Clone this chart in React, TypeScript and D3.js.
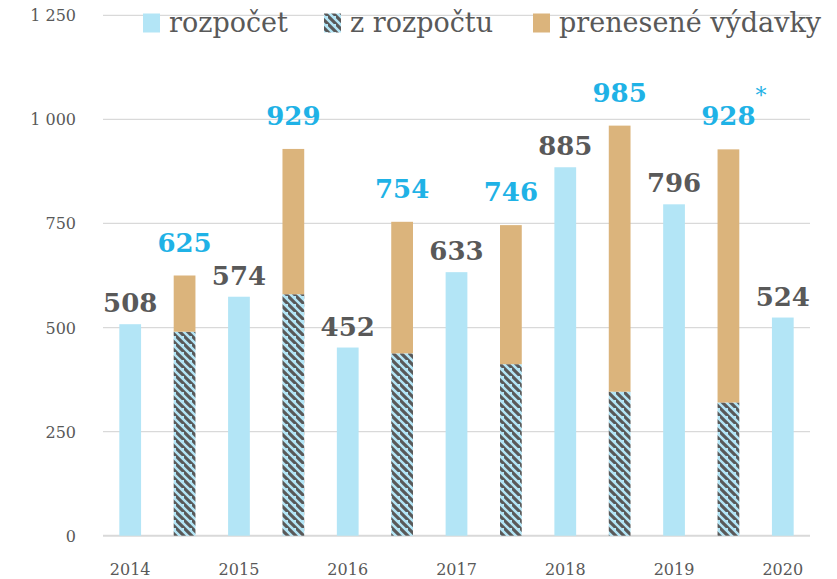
import React from 'react';
import * as d3 from 'd3';

const years = ['2014', '2015', '2016', '2017', '2018', '2019', '2020'];
const rozpocet = [508, 574, 452, 633, 885, 796, 524];
const zRozpoctu = [490, 580, 438, 412, 346, 320];
const prenesene = [135, 349, 316, 334, 639, 608];
const footnotes = ['', '', '', '', '', '*'];
const yTicks = [0, 250, 500, 750, 1000, 1250];
const legendLabels = ['rozpočet', 'z rozpočtu', 'prenesené výdavky'];

const W = 837;
const H = 579;
const C_LIGHT = '#b3e5f6';
const C_TAN = '#dbb47c';
const C_DARK = '#595959';
const C_BLUE = '#1fb2e6';
const C_GRID = '#d9d9d9';
const FONT = '"DejaVu Serif", serif';

type Slot = { key: string; kind: 'single' | 'stack'; i: number };
const slots: Slot[] = [];
years.forEach((y, i) => {
  slots.push({ key: 's' + i, kind: 'single', i });
  if (i < zRozpoctu.length) slots.push({ key: 'k' + i, kind: 'stack', i });
});

const fmt = (v: number) => {
  const s = String(v);
  return s.length > 3 ? s.slice(0, s.length - 3) + ' ' + s.slice(-3) : s;
};

export default function App() {
  const x = d3
    .scaleBand<string>()
    .domain(slots.map((s) => s.key))
    .range([103, 810])
    .paddingInner(0.6)
    .paddingOuter(0.3);
  const y = d3.scaleLinear().domain([0, 1250]).range([535.7, 15.3]);
  const bw = x.bandwidth();

  const legendX = [143, 324, 533];

  return (
    <svg width={W} height={H} style={{ position: 'absolute', left: 0, top: 0 }}>
      <defs>
        <pattern id="hatch" width={8} height={8} patternUnits="userSpaceOnUse">
          <rect width={8} height={8} fill={C_LIGHT} />
          <path
            d="M-2,-2 L10,10 M-6,2 L2,10 M6,-6 L14,2"
            stroke={C_DARK}
            strokeWidth={3.1}
          />
        </pattern>
      </defs>
      <rect width={W} height={H} fill="#fff" />

      {yTicks.map((t) => (
        <g key={t}>
          <line
            x1={103}
            x2={810}
            y1={y(t)}
            y2={y(t)}
            stroke={C_GRID}
            strokeWidth={t === 0 ? 2 : 1.3}
          />
          <text
            x={76}
            y={y(t) + 6}
            textAnchor="end"
            fontFamily={FONT}
            fontSize={16}
            fill={C_DARK}
          >
            {fmt(t)}
          </text>
        </g>
      ))}

      {slots.map((s) => {
        const x0 = x(s.key)!;
        const cx = x0 + bw / 2;
        if (s.kind === 'single') {
          const v = rozpocet[s.i];
          return (
            <g key={s.key}>
              <rect x={x0} y={y(v)} width={bw} height={y(0) - y(v)} fill={C_LIGHT} />
              <text
                x={cx}
                y={y(v) - 12}
                textAnchor="middle"
                fontFamily={FONT}
                fontWeight="bold"
                fontSize={26}
                fill={C_DARK}
              >
                {v}
              </text>
              <text
                x={cx}
                y={575}
                textAnchor="middle"
                fontFamily={FONT}
                fontSize={16}
                fill={C_DARK}
              >
                {years[s.i]}
              </text>
            </g>
          );
        }
        const a = zRozpoctu[s.i];
        const b = prenesene[s.i];
        const tot = a + b;
        return (
          <g key={s.key}>
            <rect x={x0} y={y(a)} width={bw} height={y(0) - y(a)} fill="url(#hatch)" />
            <rect x={x0} y={y(tot)} width={bw} height={y(a) - y(tot)} fill={C_TAN} />
            <text
              x={cx}
              y={y(tot) - 24}
              textAnchor="middle"
              fontFamily={FONT}
              fontWeight="bold"
              fontSize={26}
              fill={C_BLUE}
            >
              {tot}
            </text>
            {footnotes[s.i] && (
              <text
                x={cx + 27}
                y={y(tot) - 46}
                textAnchor="start"
                fontFamily={FONT}
                fontSize={22}
                fill={C_BLUE}
              >
                {footnotes[s.i]}
              </text>
            )}
          </g>
        );
      })}

      {legendLabels.map((l, i) => (
        <g key={l}>
          <rect
            x={legendX[i]}
            y={13.5}
            width={17}
            height={19}
            fill={i === 0 ? C_LIGHT : i === 1 ? 'url(#hatch)' : C_TAN}
          />
          <text
            x={legendX[i] + 26}
            y={32}
            fontFamily={FONT}
            fontSize={27}
            fill={C_DARK}
          >
            {l}
          </text>
        </g>
      ))}
    </svg>
  );
}
